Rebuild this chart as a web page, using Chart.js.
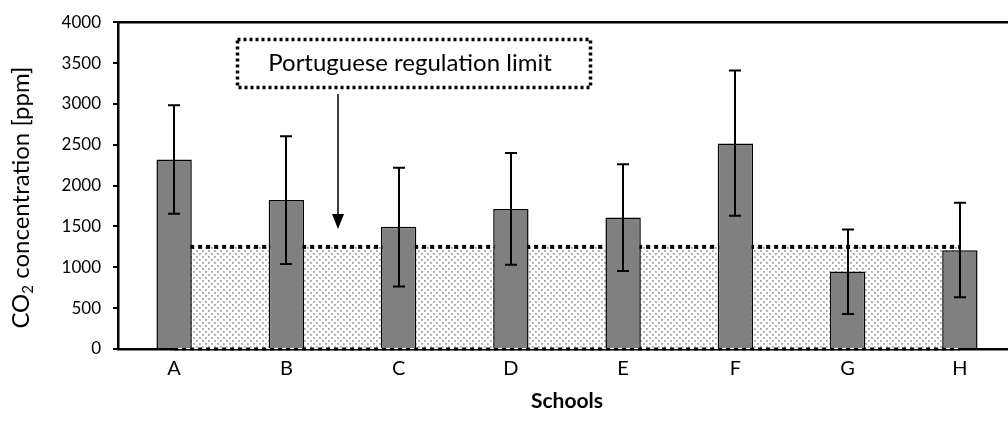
<!DOCTYPE html>
<html>
<head>
<meta charset="utf-8">
<script src="https://cdn.jsdelivr.net/npm/chart.js@4.4.1/dist/chart.umd.min.js"></script>
<style>
html,body{margin:0;padding:0;background:#fff;overflow:hidden;}
#wrap{position:absolute;left:0;top:0;width:1020px;height:429px;}
</style>
</head>
<body>
<div id="wrap"><canvas id="c" width="1020" height="429"></canvas></div>
<script>
// ---- data ----
const schools = ['A','B','C','D','E','F','G','H'];
const co2Mean = [2320, 1825, 1495, 1715, 1610, 2515, 950, 1210];
const errLow  = [1655, 1040, 765, 1030, 955, 1630, 428, 634];
const errHigh = [2985, 2605, 2220, 2400, 2260, 3410, 1463, 1790];
const yTicks = [0, 500, 1000, 1500, 2000, 2500, 3000, 3500, 4000];
const limitValue = 1250;
const limitStartIdx = 0;
const limitEndIdx = 7;
const annotationText = 'Portuguese regulation limit';
const FONT = 'Lato, "Open Sans", sans-serif';

// dotted pattern
function makePattern(ctx){
  const t = document.createElement('canvas');
  t.width = 6; t.height = 6;
  const c = t.getContext('2d');
  c.fillStyle = '#ffffff'; c.fillRect(0,0,6,6);
  c.fillStyle = '#bcbcbc';
  c.fillRect(1,1,2,2); c.fillRect(4,4,2,2);
  c.fillStyle = '#a0a0a0';
  c.fillRect(1,1,1,1); c.fillRect(4,4,1,1);
  return ctx.createPattern(t, 'repeat');
}

const cv = document.getElementById('c');
const pattern = makePattern(cv.getContext('2d'));

const decor = {
  id: 'decor',
  afterDatasetsDraw(chart){
    const ctx = chart.ctx;
    const x = chart.scales.x, y = chart.scales.y;
    const ca = chart.chartArea;
    ctx.save();
    // error bars
    ctx.strokeStyle = '#000'; ctx.lineWidth = 2;
    for (let i = 0; i < schools.length; i++){
      const px = Math.round(x.getPixelForValue(i));
      const yl = y.getPixelForValue(errLow[i]);
      const yh = y.getPixelForValue(errHigh[i]);
      ctx.beginPath();
      ctx.moveTo(px, yl); ctx.lineTo(px, yh);
      ctx.moveTo(px-6, yl); ctx.lineTo(px+6, yl);
      ctx.moveTo(px-6, yh); ctx.lineTo(px+6, yh);
      ctx.stroke();
    }
    // top frame line
    ctx.beginPath();
    ctx.lineWidth = 2.5;
    ctx.moveTo(ca.left-1, ca.top); ctx.lineTo(chart.width, ca.top);
    ctx.stroke();
    // annotation box
    ctx.setLineDash([3,3]);
    ctx.lineWidth = 3.5;
    ctx.strokeRect(237.5, 39.5, 353, 48);
    ctx.setLineDash([]);
    ctx.fillStyle = '#000';
    ctx.font = '24px ' + FONT;
    ctx.textAlign = 'center'; ctx.textBaseline = 'middle';
    ctx.fillText(annotationText, 410, 63);
    // arrow
    ctx.lineWidth = 1.5;
    ctx.beginPath(); ctx.moveTo(338, 94); ctx.lineTo(338, 216); ctx.stroke();
    ctx.beginPath(); ctx.moveTo(332, 214); ctx.lineTo(344, 214); ctx.lineTo(338, 229); ctx.closePath(); ctx.fill();
    // y title with subscript
    ctx.translate(21, (ca.top + ca.bottom)/2 + 12);
    ctx.rotate(-Math.PI/2);
    const big = '24px ' + FONT, small = '15px ' + FONT;
    ctx.textAlign = 'left'; ctx.textBaseline = 'alphabetic';
    ctx.font = big; const w1 = ctx.measureText('CO').width;
    const w3 = ctx.measureText(' concentration [ppm]').width;
    ctx.font = small; const w2 = ctx.measureText('2').width;
    let sx = -(w1+w2+w3)/2;
    ctx.font = big; ctx.fillText('CO', sx, 8); sx += w1;
    ctx.font = small; ctx.fillText('2', sx, 12); sx += w2;
    ctx.font = big; ctx.fillText(' concentration [ppm]', sx, 8);
    ctx.restore();
  }
};

new Chart(cv, {
  data: {
    labels: schools,
    datasets: [
      {
        type: 'bar',
        data: co2Mean,
        backgroundColor: '#808080',
        borderColor: '#000',
        borderWidth: 1.5,
        barPercentage: 0.315,
        categoryPercentage: 1,
        grouped: false,
        order: 0,
        xAxisID: 'x', yAxisID: 'y'
      },
      {
        type: 'line',
        data: [{x: limitStartIdx, y: limitValue}, {x: limitEndIdx, y: limitValue}],
        borderColor: '#000',
        borderWidth: 4,
        borderDash: [4,4],
        backgroundColor: pattern,
        fill: 'origin',
        pointRadius: 0,
        order: 2,
        xAxisID: 'x2', yAxisID: 'y'
      },
      {
        type: 'line',
        data: [{x: limitStartIdx, y: 0}, {x: limitEndIdx, y: 0}],
        borderColor: '#000',
        borderWidth: 3,
        borderDash: [4,4],
        pointRadius: 0,
        fill: false,
        clip: false,
        order: 1,
        xAxisID: 'x2', yAxisID: 'y'
      }
    ]
  },
  options: {
    responsive: false,
    animation: false,
    devicePixelRatio: 1,
    layout: { padding: { left: 0, top: 19, right: 4, bottom: 0 } },
    plugins: { legend: { display: false }, tooltip: { enabled: false } },
    scales: {
      x: {
        type: 'category',
        offset: true,
        grid: { display: false, drawTicks: false },
        border: { display: true, color: '#000', width: 2.5 },
        ticks: { color: '#000', font: { size: 20, family: FONT }, padding: 8, maxRotation: 0 },
        title: { display: true, text: 'Schools', color: '#000', font: { size: 21, weight: 'bold', family: FONT }, padding: { top: 0, bottom: 15 } },
        afterFit(s){ s.height = 80; }
      },
      x2: {
        type: 'linear', display: false, min: -0.5, max: 7.5
      },
      y: {
        min: 0, max: 4000,
        afterBuildTicks(s){ s.ticks = yTicks.map(v => ({value: v})); },
        grid: { drawOnChartArea: false, drawTicks: true, tickLength: 5, color: '#000', lineWidth: 2 },
        border: { display: true, color: '#000', width: 2.5 },
        ticks: { color: '#000', font: { size: 17, family: FONT }, padding: 12, callback: v => String(v) },
        afterFit(s){ s.width = 118; }
      }
    }
  },
  plugins: [decor]
});
</script>
</body>
</html>
